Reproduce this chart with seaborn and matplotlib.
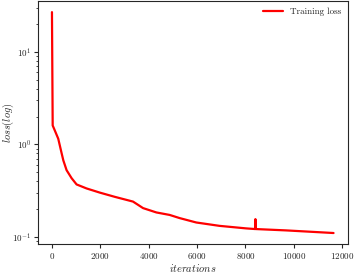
import matplotlib
matplotlib.use("Agg")
import matplotlib.pyplot as plt
import seaborn as sns
import pandas as pd

iterations = [0, 30, 100, 260, 400, 470, 605, 812, 1018, 1430, 1980, 2600, 3350, 3550, 3765,
              4317, 4866, 5278, 5965, 6928, 8028, 8400, 8410, 8420, 9677, 11640]
loss = [27, 1.6, 1.45, 1.15, 0.8, 0.67, 0.525, 0.43, 0.368, 0.333, 0.30, 0.27, 0.24, 0.222, 0.204,
        0.183, 0.172, 0.159, 0.1425, 0.131, 0.123, 0.121, 0.155, 0.121, 0.117, 0.1096]
series_label = "Training loss"

sns.set_style("ticks")
plt.rcParams['font.family'] = ['cmr10', 'DejaVu Serif']
plt.rcParams['mathtext.fontset'] = 'cm'
plt.rcParams['axes.formatter.use_mathtext'] = True
plt.rcParams['axes.unicode_minus'] = False

df = pd.DataFrame({"iterations": iterations, "loss": loss})

fig = plt.figure(figsize=(3.54, 2.73), dpi=100)
ax = fig.add_axes([0.107, 0.106, 0.875, 0.89])
sns.lineplot(data=df, x="iterations", y="loss", ax=ax, color="red", linewidth=1.6,
             label=series_label, sort=False)
ax.set_yscale("log")
ax.set_xticks([0, 2000, 4000, 6000, 8000, 10000, 12000])
ax.set_xlabel(r"$iterations$", fontsize=7.5, labelpad=0.5)
ax.set_ylabel(r"$loss(log)$", fontsize=7.5)
ax.yaxis.set_label_coords(-0.07, 0.5)
ax.tick_params(labelsize=6.5, width=0.8, length=3, pad=2)
ax.tick_params(which='minor', width=0.6, length=1.8)
for s in ax.spines.values():
    s.set_linewidth(0.8)
leg = ax.legend(loc="upper right", frameon=False, fontsize=6.5, handlelength=2.2,
                borderaxespad=0.3)
fig.savefig("out.png", dpi=100)
